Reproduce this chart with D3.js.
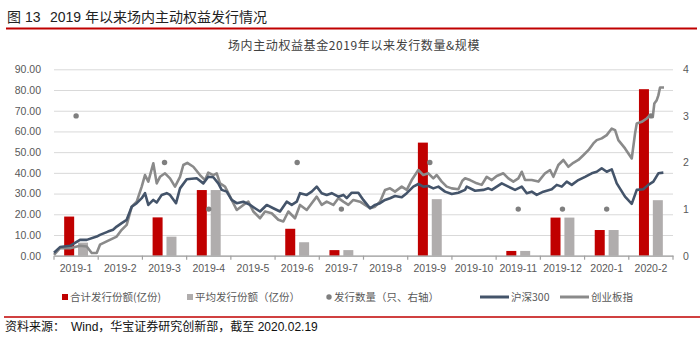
<!DOCTYPE html>
<html><head><meta charset="utf-8">
<script src="https://cdn.jsdelivr.net/npm/d3@7"></script>
<style>
html,body{margin:0;padding:0;background:#fff;}
svg{display:block;font-family:"Liberation Sans",Arial,"Noto Sans CJK SC",sans-serif;}
</style></head><body>
<svg id="c" width="700" height="342"></svg>
<script>
const months = ["2019-1","2019-2","2019-3","2019-4","2019-5","2019-6","2019-7","2019-8","2019-9","2019-10","2019-11","2019-12","2020-1","2020-2"];
const totalShares = [18.9, 0, 18.5, 31.7, 0, 13.0, 2.7, 0, 54.6, 0, 2.3, 18.4, 12.4, 80.4];
const avgShares   = [6.3, 0, 9.2, 31.7, 0, 6.5, 2.7, 0, 27.3, 0, 2.3, 18.4, 12.4, 26.8];
const fundCount   = [3, null, 2, 1, null, 2, 1, null, 2, null, 1, 1, 1, 3];
const leftTicks  = [0,10,20,30,40,50,60,70,80,90];
const rightTicks = [0,1,2,3,4];
const legendNames = ["合计发行份额(亿份)","平均发行份额（亿份）","发行数量（只、右轴）","沪深300","创业板指"];
// index lines: [month position (0 = start of 2019-1), value relative to start]
const hs300 = [[0,1.000],[0.136,1.026],[0.362,1.032],[0.588,1.059],[0.740,1.059],[0.966,1.074],[1.040,1.082],[1.221,1.097],[1.335,1.105],[1.418,1.120],[1.531,1.136],[1.644,1.151],[1.758,1.211],[1.871,1.227],[1.984,1.250],[2.058,1.273],[2.133,1.219],[2.246,1.242],[2.323,1.230],[2.436,1.265],[2.549,1.273],[2.624,1.265],[2.760,1.227],[2.850,1.295],[3.002,1.337],[3.228,1.341],[3.377,1.318],[3.490,1.348],[3.603,1.346],[3.716,1.318],[3.793,1.288],[3.906,1.280],[4.019,1.242],[4.133,1.227],[4.282,1.234],[4.433,1.219],[4.546,1.204],[4.660,1.189],[4.811,1.219],[4.960,1.204],[5.112,1.189],[5.263,1.234],[5.377,1.219],[5.490,1.234],[5.564,1.273],[5.716,1.265],[5.829,1.280],[5.942,1.303],[6.055,1.273],[6.168,1.265],[6.281,1.273],[6.431,1.257],[6.544,1.265],[6.621,1.250],[6.734,1.275],[6.883,1.275],[6.996,1.242],[7.148,1.204],[7.261,1.219],[7.374,1.227],[7.487,1.242],[7.600,1.250],[7.713,1.260],[7.865,1.254],[7.978,1.273],[8.127,1.303],[8.240,1.315],[8.353,1.303],[8.466,1.306],[8.579,1.295],[8.693,1.303],[8.844,1.280],[8.996,1.269],[9.145,1.275],[9.297,1.288],[9.335,1.303],[9.523,1.284],[9.711,1.288],[9.824,1.295],[9.901,1.288],[10.127,1.318],[10.276,1.303],[10.428,1.288],[10.579,1.303],[10.692,1.273],[10.805,1.280],[10.918,1.265],[11.068,1.280],[11.258,1.291],[11.371,1.311],[11.484,1.303],[11.597,1.326],[11.710,1.311],[11.859,1.333],[12.011,1.348],[12.162,1.364],[12.275,1.371],[12.388,1.387],[12.501,1.371],[12.615,1.382],[12.728,1.318],[12.915,1.257],[13.067,1.224],[13.180,1.288],[13.329,1.291],[13.442,1.311],[13.556,1.326],[13.669,1.364],[13.782,1.367]];
const chinext = [[0,0.990],[0.136,1.021],[0.362,1.021],[0.588,1.032],[0.740,1.029],[0.853,0.999],[0.966,0.999],[1.040,1.037],[1.192,1.052],[1.418,1.074],[1.531,1.105],[1.644,1.128],[1.758,1.211],[1.871,1.234],[1.984,1.303],[2.058,1.356],[2.133,1.326],[2.246,1.410],[2.323,1.318],[2.398,1.348],[2.511,1.364],[2.624,1.341],[2.737,1.303],[2.850,1.348],[2.925,1.402],[3.015,1.412],[3.151,1.394],[3.302,1.356],[3.416,1.333],[3.490,1.367],[3.603,1.356],[3.680,1.364],[3.755,1.318],[3.868,1.303],[4.019,1.242],[4.133,1.196],[4.282,1.219],[4.395,1.234],[4.508,1.189],[4.660,1.158],[4.773,1.189],[4.924,1.181],[5.073,1.151],[5.187,1.143],[5.300,1.189],[5.451,1.158],[5.564,1.219],[5.716,1.196],[5.829,1.227],[5.942,1.257],[6.055,1.219],[6.168,1.234],[6.318,1.219],[6.431,1.250],[6.544,1.234],[6.657,1.219],[6.770,1.242],[6.921,1.234],[7.035,1.219],[7.148,1.204],[7.261,1.211],[7.374,1.234],[7.487,1.288],[7.600,1.295],[7.713,1.280],[7.865,1.303],[7.978,1.288],[8.091,1.333],[8.240,1.379],[8.353,1.356],[8.466,1.364],[8.579,1.341],[8.656,1.356],[8.769,1.326],[8.882,1.303],[8.996,1.295],[9.145,1.291],[9.236,1.330],[9.297,1.341],[9.410,1.333],[9.561,1.318],[9.674,1.311],[9.787,1.348],[9.901,1.333],[10.014,1.352],[10.163,1.364],[10.276,1.341],[10.389,1.326],[10.502,1.341],[10.579,1.371],[10.654,1.333],[10.805,1.333],[10.955,1.326],[11.106,1.364],[11.219,1.379],[11.294,1.348],[11.407,1.402],[11.520,1.425],[11.633,1.394],[11.746,1.412],[11.859,1.425],[11.972,1.447],[12.086,1.470],[12.199,1.501],[12.275,1.516],[12.388,1.524],[12.501,1.539],[12.615,1.569],[12.690,1.562],[12.764,1.516],[12.915,1.478],[13.067,1.432],[13.142,1.547],[13.180,1.592],[13.293,1.600],[13.406,1.615],[13.481,1.630],[13.542,1.622],[13.578,1.684],[13.632,1.699],[13.669,1.721],[13.707,1.757],[13.797,1.757]];

const RED = "#c00000", GRAYBAR = "#b0adad", DOT = "#7f7f7f", HS = "#44546a", CN = "#8a8a8a", TXT = "#595959";
const svg = d3.select("#c");
const M = {left:54, right:673, top:69.3, bottom:255.7};

const x = d3.scaleBand().domain(months).range([M.left, M.right]).padding(0);
const xi = d3.scaleBand().domain(["total","avg"]).range([x.bandwidth()*0.23, x.bandwidth()*0.77]).paddingInner(0.28);
const xt = d3.scaleLinear().domain([0, months.length]).range([M.left, M.right]);
const yL = d3.scaleLinear().domain([0,90]).range([M.bottom, M.top]);
const yR = d3.scaleLinear().domain([0,4]).range([M.bottom, M.top]);
const yI = d3.scaleLinear().domain([0.9865,1.8405]).range([M.bottom, M.top]);

// header
svg.append("text").attr("x",7).attr("y",22).attr("font-size",14).attr("fill","#222").text("图 13");
svg.append("text").attr("x",50).attr("y",22).attr("font-size",14).attr("fill","#222").text("2019 年以来场内主动权益发行情况");
svg.append("line").attr("x1",6).attr("x2",697).attr("y1",28.5).attr("y2",28.5).attr("stroke",RED).attr("stroke-width",2);
svg.append("text").attr("x",228).attr("y",49.5).attr("font-size",12).attr("letter-spacing",0.6).attr("fill","#404040")
  .style("font-family","'Noto Sans CJK SC',sans-serif").text("场内主动权益基金2019年以来发行数量&规模");

// left axis + grid
const gl = svg.append("g").attr("transform",`translate(${M.left},0)`)
  .call(d3.axisLeft(yL).tickValues(leftTicks).tickFormat(d3.format(".2f")).tickSize(-(M.right-M.left)).tickPadding(13));
gl.select(".domain").remove();
gl.selectAll(".tick line").attr("stroke","#d9d9d9").attr("stroke-width",1);
gl.selectAll(".tick text").attr("fill",TXT).attr("font-size",10.5).style("font-family","'Liberation Sans',Arial,sans-serif");

// right axis
const gr = svg.append("g").attr("transform",`translate(${M.right},0)`)
  .call(d3.axisRight(yR).tickValues(rightTicks).tickFormat(d3.format("d")).tickSize(0).tickPadding(10));
gr.select(".domain").remove();
gr.selectAll(".tick text").attr("fill",TXT).attr("font-size",10.5).style("font-family","'Liberation Sans',Arial,sans-serif");

// bars
const bars = svg.append("g");
months.forEach((m,i)=>{
  [["total",totalShares[i],RED],["avg",avgShares[i],GRAYBAR]].forEach(([k,v,c])=>{
    if(!v) return;
    bars.append("rect").attr("x",x(m)+xi(k)).attr("width",xi.bandwidth())
      .attr("y",yL(v)).attr("height",yL(0)-yL(v)).attr("fill",c);
  });
});

// bottom axis
const gb = svg.append("g").attr("transform",`translate(0,${M.bottom})`)
  .call(d3.axisBottom(x).tickSize(0).tickPadding(9));
gb.select(".domain").attr("stroke","#a0a0a0").attr("stroke-width",1.2);
gb.selectAll(".tick text").attr("fill",TXT).attr("font-size",10.5).style("font-family","'Liberation Sans',Arial,sans-serif");
gb.selectAll(".sep").data(d3.range(months.length+1)).enter().append("line")
  .attr("x1",d=>xt(d)).attr("x2",d=>xt(d)).attr("y1",0).attr("y2",4).attr("stroke","#a0a0a0").attr("stroke-width",1.2);

// lines
const line = d3.line().x(d=>xt(d[0])).y(d=>yI(d[1]));
svg.append("path").datum(chinext).attr("d",line).attr("fill","none").attr("stroke",CN).attr("stroke-width",2.6).attr("stroke-linejoin","round");
svg.append("path").datum(hs300).attr("d",line).attr("fill","none").attr("stroke",HS).attr("stroke-width",2.6).attr("stroke-linejoin","round");

// dots
svg.append("g").selectAll("circle").data(months.map((m,i)=>({m,c:fundCount[i]})).filter(d=>d.c!=null))
  .enter().append("circle").attr("cx",d=>x(d.m)+x.bandwidth()/2).attr("cy",d=>yR(d.c)).attr("r",2.7).attr("fill",DOT);

// legend
const lg = svg.append("g").style("font-family","'Noto Sans CJK SC',sans-serif").attr("font-size",10.5).attr("fill",TXT);
const ly = 297;
lg.append("rect").attr("x",62).attr("y",ly-3).attr("width",6).attr("height",6).attr("fill",RED);
lg.append("text").attr("x",70).attr("y",ly+3.8).text(legendNames[0]);
lg.append("rect").attr("x",187).attr("y",ly-3).attr("width",6).attr("height",6).attr("fill",GRAYBAR);
lg.append("text").attr("x",195).attr("y",ly+3.8).text(legendNames[1]);
lg.append("circle").attr("cx",329).attr("cy",ly).attr("r",2.7).attr("fill",DOT);
lg.append("text").attr("x",334).attr("y",ly+3.8).text(legendNames[2]);
lg.append("line").attr("x1",480).attr("x2",509).attr("y1",ly).attr("y2",ly).attr("stroke",HS).attr("stroke-width",3);
lg.append("text").attr("x",511).attr("y",ly+3.8).text(legendNames[3]);
lg.append("line").attr("x1",560).attr("x2",589).attr("y1",ly).attr("y2",ly).attr("stroke",CN).attr("stroke-width",3);
lg.append("text").attr("x",591).attr("y",ly+3.8).text(legendNames[4]);

// footer
svg.append("line").attr("x1",4).attr("x2",700).attr("y1",317).attr("y2",317).attr("stroke",RED).attr("stroke-width",1.5);
svg.append("text").attr("x",5).attr("y",331).attr("font-size",12).attr("fill","#111").text("资料来源：");
svg.append("text").attr("x",71).attr("y",331).attr("font-size",12).attr("fill","#111").text("Wind，华宝证券研究创新部，截至 2020.02.19");
</script></body></html>
